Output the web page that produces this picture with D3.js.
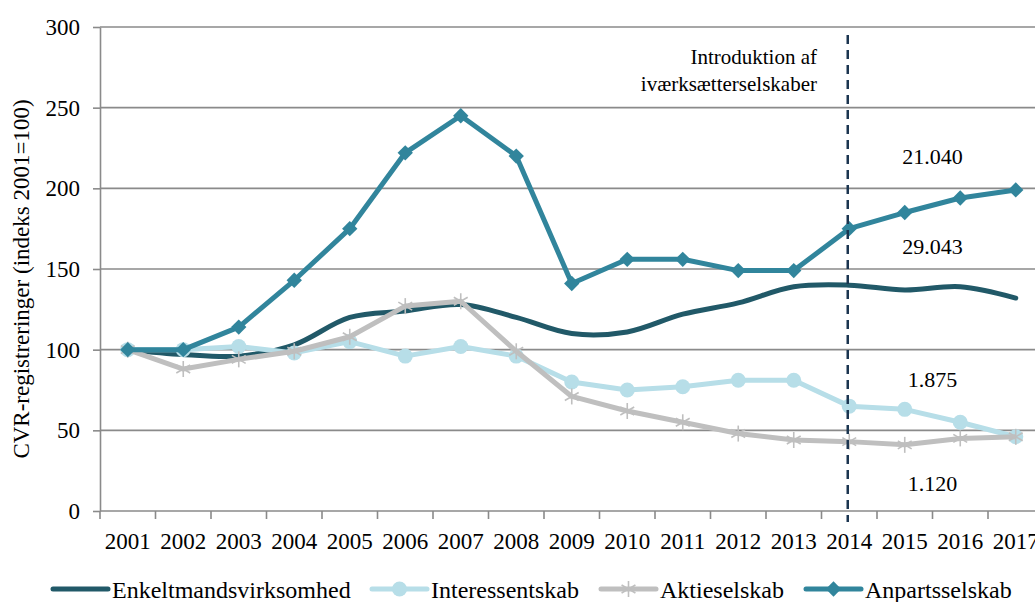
<!DOCTYPE html>
<html>
<head>
<meta charset="utf-8">
<script src="https://cdn.jsdelivr.net/npm/d3@7"></script>
<style>
  html, body { margin: 0; padding: 0; background: #fff; }
  svg { display: block; font-family: "Liberation Serif", "Times New Roman", serif; }
</style>
</head>
<body>
<svg id="chart" width="1035" height="602"></svg>
<script>
const years = ["2001","2002","2003","2004","2005","2006","2007","2008","2009","2010","2011","2012","2013","2014","2015","2016","2017"];
const enkeltmand = [100, 97, 96, 103, 120, 124, 128, 120, 110, 111, 122, 129, 139, 140, 137, 139, 132];
const interessent = [100, 100, 102, 98, 105, 96, 102, 96, 80, 75, 77, 81, 81, 65, 63, 55, 46];
const aktie = [100, 88, 94, 99, 108, 127, 130, 99, 71, 62, 55, 48, 44, 43, 41, 45, 46];
const anparts = [100, 100, 114, 143, 175, 222, 245, 220, 141, 156, 156, 149, 149, 175, 185, 194, 199];
const yTicks = [0, 50, 100, 150, 200, 250, 300];
const seriesNames = ["Enkeltmandsvirksomhed", "Interessentskab", "Aktieselskab", "Anpartsselskab"];
const markerYear = "2014";
const notes = [
  { text: "21.040", value: 220 },
  { text: "29.043", value: 164 },
  { text: "1.875", value: 82 },
  { text: "1.120", value: 17.5 }
];
const introLines = ["Introduktion af", "iværksætterselskaber"];

(function () {
const svg = d3.select("#chart");
const mLeft = 100, mTop = 27, mBottom = 511, mRight = 1043.5;
const serif = "Liberation Serif, Times New Roman, serif";

const x = d3.scaleBand().domain(years).range([mLeft, mRight]).padding(0);
const bw = x.bandwidth();
const cx = d => x(d) + bw / 2;
const y = d3.scaleLinear().domain([0, 300]).range([mBottom, mTop]);

const gridColor = "#8a8a8a";

// gridlines
svg.append("g").selectAll("line").data(yTicks.filter(t => t > 0)).join("line")
  .attr("x1", mLeft).attr("x2", 1035)
  .attr("y1", d => y(d)).attr("y2", d => y(d))
  .attr("stroke", gridColor).attr("stroke-width", 1.6);

// y axis
const yAxis = svg.append("g").attr("transform", `translate(${mLeft},0)`)
  .call(d3.axisLeft(y).tickValues(yTicks).tickSize(7).tickPadding(13).tickSizeOuter(0));
yAxis.attr("font-family", serif);
yAxis.select(".domain").attr("stroke", gridColor).attr("stroke-width", 1.6);
yAxis.selectAll(".tick line").attr("stroke", gridColor).attr("stroke-width", 1.6);
yAxis.selectAll(".tick text").attr("font-size", 23).attr("fill", "#000").attr("font-family", serif);

// x axis
const xAxis = svg.append("g").attr("transform", `translate(0,${mBottom})`)
  .call(d3.axisBottom(x).tickSize(0).tickPadding(22).tickSizeOuter(0));
xAxis.attr("font-family", serif);
xAxis.select(".domain").remove();
xAxis.selectAll(".tick text").attr("font-size", 23).attr("fill", "#000").attr("font-family", serif);
svg.append("line").attr("x1", mLeft).attr("x2", 1035).attr("y1", mBottom).attr("y2", mBottom)
  .attr("stroke", gridColor).attr("stroke-width", 1.6);
svg.append("g").selectAll("line").data(years).join("line")
  .attr("x1", d => x(d)).attr("x2", d => x(d))
  .attr("y1", mBottom).attr("y2", mBottom + 8)
  .attr("stroke", gridColor).attr("stroke-width", 1.6);

// y title
svg.append("text")
  .attr("transform", `translate(29,${(mTop + mBottom) / 2 + 10}) rotate(-90)`)
  .attr("text-anchor", "middle").attr("font-size", 23).attr("fill", "#000")
  .text("CVR-registreringer (indeks 2001=100)");

// series
const colors = ["#215968", "#b7dee8", "#bfbfbf", "#31859c"];

function pts(arr) { return arr.map((v, i) => [cx(years[i]), y(v)]); }

// Enkeltmandsvirksomhed (smoothed, no markers)
svg.append("path").attr("d", d3.line().curve(d3.curveCatmullRom.alpha(0.5))(pts(enkeltmand)))
  .attr("fill", "none").attr("stroke", colors[0]).attr("stroke-width", 5)
  .attr("stroke-linejoin", "round").attr("stroke-linecap", "round");

// Interessentskab with circles
svg.append("path").attr("d", d3.line()(pts(interessent)))
  .attr("fill", "none").attr("stroke", colors[1]).attr("stroke-width", 5).attr("stroke-linejoin", "round");
svg.append("g").selectAll("circle").data(interessent).join("circle")
  .attr("cx", (d, i) => cx(years[i])).attr("cy", d => y(d)).attr("r", 7.5)
  .attr("fill", colors[1]);

// Aktieselskab with asterisks
svg.append("path").attr("d", d3.line()(pts(aktie)))
  .attr("fill", "none").attr("stroke", colors[2]).attr("stroke-width", 5).attr("stroke-linejoin", "round");
const star = svg.append("g").selectAll("g").data(aktie).join("g")
  .attr("transform", (d, i) => `translate(${cx(years[i])},${y(d)})`);
[0, 60, 120].forEach(a => {
  star.append("line").attr("x1", 0).attr("y1", -8).attr("x2", 0).attr("y2", 8)
    .attr("transform", `rotate(${a})`).attr("stroke", colors[2]).attr("stroke-width", 1.6);
});

// Anpartsselskab with diamonds
svg.append("path").attr("d", d3.line()(pts(anparts)))
  .attr("fill", "none").attr("stroke", colors[3]).attr("stroke-width", 5).attr("stroke-linejoin", "round");
svg.append("g").selectAll("path").data(anparts).join("path")
  .attr("d", d3.symbol().type(d3.symbolDiamond2).size(150))
  .attr("transform", (d, i) => `translate(${cx(years[i])},${y(d)})`)
  .attr("fill", colors[3]);

// dashed vertical marker
svg.append("line").attr("x1", cx(markerYear) - 1.5).attr("x2", cx(markerYear) - 1.5)
  .attr("y1", 35).attr("y2", 522)
  .attr("stroke", "#1b3550").attr("stroke-width", 2.5).attr("stroke-dasharray", "9,6");

// intro annotation
svg.append("g").selectAll("text").data(introLines).join("text")
  .attr("x", 817).attr("y", (d, i) => 64 + i * 27)
  .attr("text-anchor", "end").attr("font-size", 21).attr("fill", "#000").text(d => d);

// value labels
const noteX = x("2015") + bw;
svg.append("g").selectAll("text").data(notes).join("text")
  .attr("x", noteX).attr("y", d => y(d.value) + 8)
  .attr("text-anchor", "middle").attr("font-size", 22).attr("fill", "#000").text(d => d.text);

// legend
const legendItems = [
  { name: seriesNames[0], x0: 53, color: colors[0], marker: "none" },
  { name: seriesNames[1], x0: 372, color: colors[1], marker: "circle" },
  { name: seriesNames[2], x0: 601, color: colors[2], marker: "star" },
  { name: seriesNames[3], x0: 806, color: colors[3], marker: "diamond" }
];
const ly = 589;
const lg = svg.append("g").selectAll("g").data(legendItems).join("g")
  .attr("transform", d => `translate(${d.x0},${ly})`);
lg.append("line").attr("x1", 0).attr("x2", 55).attr("y1", 0).attr("y2", 0)
  .attr("stroke", d => d.color).attr("stroke-width", 5).attr("stroke-linecap", "round");
lg.filter(d => d.marker === "circle").append("circle").attr("cx", 27.5).attr("cy", 0).attr("r", 7.5).attr("fill", d => d.color);
lg.filter(d => d.marker === "diamond").append("path")
  .attr("d", d3.symbol().type(d3.symbolDiamond2).size(150)).attr("transform", "translate(27.5,0)").attr("fill", d => d.color);
const ls = lg.filter(d => d.marker === "star");
[0, 60, 120].forEach(a => {
  ls.append("line").attr("x1", 0).attr("y1", -8).attr("x2", 0).attr("y2", 8)
    .attr("transform", `translate(27.5,0) rotate(${a})`).attr("stroke", d => d.color).attr("stroke-width", 1.6);
});
lg.append("text").attr("x", 59).attr("y", 8.5).attr("font-size", 24).attr("fill", "#000").text(d => d.name);
})();
</script>
</body>
</html>
